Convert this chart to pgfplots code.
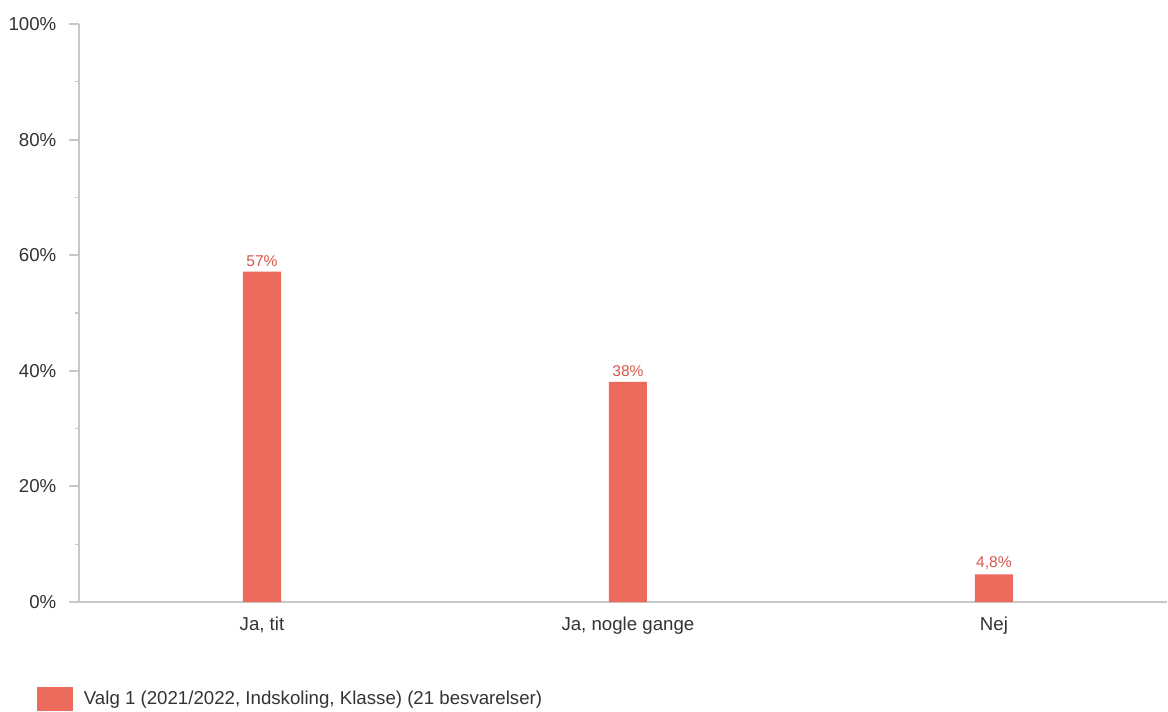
\documentclass[border=0pt]{standalone}
\usepackage{pgfplots}
\pgfplotsset{compat=1.18}
\usepackage{fontspec}
\setmainfont{Liberation Sans}
\definecolor{barc}{HTML}{EC6A5C}
\definecolor{lblc}{HTML}{D9574B}
\definecolor{axc}{HTML}{C8C8C8}
\definecolor{txt}{HTML}{333333}
\begin{document}
\begin{tikzpicture}
\path[use as bounding box] (-59.25pt,-81.75pt) rectangle (816.75pt,451.5pt);
\begin{axis}[
  at={(0,0)}, anchor=south west,
  scale only axis, width=816pt, height=433.5pt,
  xmin=-0.5, xmax=2.473, ymin=0, ymax=100,
  axis lines*=left,
  axis line style={draw=axc, line width=1.5pt},
  xtick={0,1,2},
  xticklabels={{Ja, tit},{Ja, nogle gange},{Nej}},
  x tick style={draw=none},
  major x tick style={draw=none},
  ytick={0,20,40,60,80,100},
  minor ytick={10,30,50,70,90},
  yticklabel={\pgfmathprintnumber{\tick}\%},
  yticklabel style={xshift=-6pt},
  tick align=outside,
  major tick length=7.5pt,
  minor tick length=3pt,
  y tick style={draw=axc, line width=1.5pt},
  minor y tick style={draw=axc, line width=1pt},
  /pgf/number format/assume math mode=true,
  tick label style={font=\fontsize{14}{17}\selectfont, text=txt},
  ybar, bar width=0.104,
  point meta=explicit symbolic,
  nodes near coords,
  nodes near coords style={font=\fontsize{11.7}{14}\selectfont, text=lblc, anchor=south},
  legend style={at={(-0.0386,-0.1678)}, anchor=west, draw=none, fill=none,
    font=\fontsize{14}{17}\selectfont, text=txt, inner sep=0pt},
  legend image code/.code={\fill[barc] (0pt,-9pt) rectangle (27pt,9pt);},
  legend cell align=left,
  legend style={nodes={inner xsep=5pt}},
  clip=false,
]
\addplot[fill=barc, draw=none] coordinates {(0,57.14) [57\%] (1,38.1) [38\%] (2,4.76) [{4,8\%}]};
\addlegendentry{\hspace{3pt}Valg 1 (2021/2022, Indskoling, Klasse) (21 besvarelser)}
\end{axis}
\end{tikzpicture}
\end{document}
